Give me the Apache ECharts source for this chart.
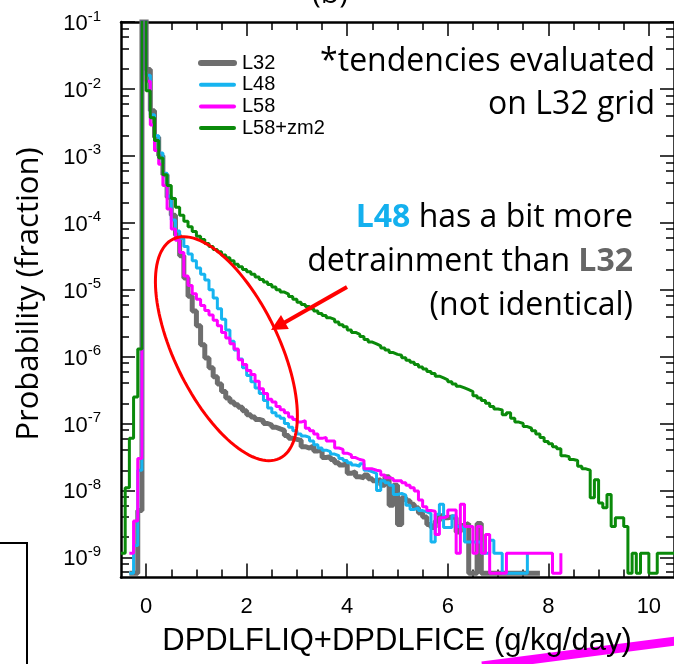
<!DOCTYPE html>
<html><head><meta charset="utf-8">
<script src="https://cdn.jsdelivr.net/npm/echarts@6/dist/echarts.min.js"></script>
<style>html,body{margin:0;padding:0;background:#fff}#c{width:674px;height:664px}</style>
</head><body><div id="c"></div>
<script>
// ---------- data (probability per bin, bin width 1/12 g/kg/day) ----------
const binWidth = 1 / 12;
const xTickLabels = [0, 2, 4, 6, 8, 10];
const xMinorTicks = [0.5, 1, 1.5, 2.5, 3, 3.5, 4.5, 5, 5.5, 6.5, 7, 7.5, 8.5, 9, 9.5];
const yDecades = [-9, -8, -7, -6, -5, -4, -3, -2, -1];
const yMinorMultipliers = [2, 4, 6, 8];
const seriesNames = ['L32', 'L48', 'L58', 'L58+zm2'];
const emptyBinLevel = 5.8e-10; // where empty bins are drawn (bottom of plot)

const L32_x0 = -4 / 12;
const L32 = [0, 0, 5e-9, 0.3, 1.95e-2, 4.7e-3, 1.9e-3, 1.0e-3, 5.2e-4, 2.4e-4, 1.3e-4, 6.5e-5, 3.2e-5, 1.5e-5,
  8e-6, 4.8e-6, 2.9e-6, 1.5e-6, 9.5e-7, 6.8e-7, 5.0e-7, 3.9e-7, 3.0e-7, 2.4e-7, 2.1e-7, 1.9e-7, 1.75e-7, 1.55e-7,
  1.35e-7, 1.25e-7, 1.15e-7, 1.1e-7, 1.0e-7, 9.5e-8, 8.8e-8, 8.3e-8, 7.9e-8, 6.6e-8, 6.0e-8, 5.8e-8, 5.6e-8,
  4.5e-8, 4.3e-8, 4.6e-8, 3.9e-8, 4.0e-8, 3.1e-8, 3.2e-8, 2.9e-8, 2.6e-8, 2.4e-8, 2.5e-8, 1.8e-8, 1.9e-8, 1.6e-8,
  1.55e-8, 1.7e-8, 1.5e-8, 1.4e-8, 1.45e-8, 1.2e-8, 1.6e-8, 6.0e-9, 1.2e-8, 3.1e-9, 7.8e-9, 7.0e-9, 6.2e-9, 5.5e-9,
  4.6e-9, 4.0e-9, 3.1e-9, 2.8e-9, 3.5e-9, 4.2e-9, 3.9e-9, 4.0e-9, 3.9e-9, 2.4e-9, 3.0e-9, 3.2e-9, 0, 0, 3.2e-9,
  0, 0, 0, 0, 0, 0, 0, 0, 0, 0, 0, 0, 0, 0, 0];

const L48_x0 = -4 / 12;
const L48 = [0, 1.5e-9, 2e-8, 0.3, 1.6e-2, 4.1e-3, 2.0e-3, 1.1e-3, 5.5e-4, 2.5e-4, 1.1e-4, 7.5e-5, 5.8e-5, 4.4e-5,
  3.4e-5, 2.7e-5, 2.1e-5, 1.7e-5, 1.4e-5, 1.0e-5, 7.5e-6, 5.2e-6, 3.6e-6, 2.5e-6, 1.7e-6, 1.25e-6, 9.2e-7, 6.8e-7,
  5.2e-7, 4.2e-7, 3.4e-7, 2.8e-7, 2.2e-7, 1.7e-7, 1.45e-7, 1.3e-7, 1.2e-7, 1.0e-7, 8.8e-8, 7.8e-8, 7.0e-8, 6.5e-8,
  6.2e-8, 5.5e-8, 4.8e-8, 4.3e-8, 4.0e-8, 3.8e-8, 3.5e-8, 3.3e-8, 3.0e-8, 2.8e-8, 2.6e-8, 2.4e-8, 2.3e-8, 2.5e-8,
  2.0e-8, 1.9e-8, 1.8e-8, 1.0e-8, 1.4e-8, 1.3e-8, 1.2e-8, 8.7e-9, 9.0e-9, 8.5e-9, 6.0e-9, 5.2e-9, 5.5e-9, 5.0e-9,
  4.8e-9, 4.5e-9, 1.7e-9, 4.4e-9, 6.2e-9, 2.8e-9, 2.8e-9, 4.2e-9, 2.9e-9, 2.8e-9, 1.7e-9, 1.7e-9, 1.7e-9, 1.7e-9,
  1.15e-9, 1.15e-9, 1.8e-9, 1.15e-9, 1.15e-9, 0, 0, 0, 0, 0, 0, 1.15e-9];

const L58_x0 = -4 / 12;
const L58 = [1.15e-9, 3.5e-9, 3e-8, 0.3, 1.3e-2, 2.9e-3, 1.2e-3, 7.5e-4, 3.6e-4, 1.6e-4, 8.1e-5, 5.5e-5, 3.6e-5,
  1.6e-5, 1.15e-5, 8.7e-6, 7.2e-6, 5.8e-6, 4.9e-6, 4.2e-6, 3.5e-6, 2.9e-6, 2.3e-6, 1.9e-6, 1.55e-6, 1.3e-6, 9.0e-7,
  7.6e-7, 6.2e-7, 5.4e-7, 4.3e-7, 3.3e-7, 2.8e-7, 2.3e-7, 2.1e-7, 1.8e-7, 1.6e-7, 1.45e-7, 1.25e-7, 1.15e-7, 1.05e-7,
  1.1e-7, 8.5e-8, 7.8e-8, 7.0e-8, 6.0e-8, 6.2e-8, 5.5e-8, 5.5e-8, 4.3e-8, 4.1e-8, 3.6e-8, 3.4e-8, 3.1e-8, 2.9e-8,
  2.8e-8, 2.1e-8, 2.1e-8, 2.0e-8, 1.95e-8, 1.7e-8, 1.55e-8, 1.5e-8, 1.4e-8, 1.4e-8, 1.3e-8, 1.2e-8, 1.1e-8, 9.8e-9,
  7.2e-9, 5.7e-9, 5.0e-9, 4.9e-9, 2.2e-9, 3.9e-9, 4.1e-9, 5.1e-9, 5.1e-9, 1.15e-9, 6.2e-9, 2.9e-9, 2.9e-9, 1.15e-9,
  2.9e-9, 1.15e-9, 2.2e-9, 0, 0, 0, 0, 1.15e-9, 1.15e-9, 1.15e-9, 1.15e-9, 1.15e-9, 1.15e-9, 1.15e-9, 1.15e-9,
  1.15e-9, 1.15e-9, 1.15e-9, 0, 0, 1.15e-9];

const L58zm2_x0 = -6 / 12;
const L58zm2 = [1.15e-9, 1.1e-8, 6e-8, 2.5e-7, 1.3e-6, 0.3, 9.4e-3, 3.7e-3, 1.7e-3, 9.3e-4, 5.2e-4, 3.6e-4, 2.3e-4,
  1.7e-4, 1.3e-4, 1.05e-4, 8.7e-5, 7.4e-5, 6.3e-5, 5.6e-5, 4.9e-5, 4.4e-5, 4.0e-5, 3.7e-5, 3.3e-5, 3.0e-5, 2.7e-5,
  2.4e-5, 2.2e-5, 2.0e-5, 1.85e-5, 1.7e-5, 1.55e-5, 1.42e-5, 1.3e-5, 1.2e-5, 1.1e-5, 1.0e-5, 9.2e-6, 8.6e-6, 7.9e-6,
  7.2e-6, 6.5e-6, 6.0e-6, 5.6e-6, 5.2e-6, 4.8e-6, 4.4e-6, 4.1e-6, 3.8e-6, 3.6e-6, 3.3e-6, 3.0e-6, 2.8e-6, 2.5e-6,
  2.3e-6, 2.15e-6, 2.0e-6, 1.8e-6, 1.65e-6, 1.55e-6, 1.45e-6, 1.35e-6, 1.25e-6, 1.15e-6, 1.08e-6, 1.05e-6, 9.6e-7,
  8.8e-7, 8.2e-7, 7.6e-7, 7.0e-7, 6.5e-7, 6.0e-7, 5.6e-7, 5.1e-7, 4.8e-7, 4.5e-7, 4.2e-7, 3.9e-7, 3.6e-7, 3.4e-7,
  3.2e-7, 3.0e-7, 2.6e-7, 2.4e-7, 2.2e-7, 2.0e-7, 1.8e-7, 1.65e-7, 1.6e-7, 1.35e-7, 1.45e-7, 1.2e-7, 1.05e-7, 1.0e-7,
  9.0e-8, 8.5e-8, 7.8e-8, 7.0e-8, 6.2e-8, 5.4e-8, 5.0e-8, 4.5e-8, 4.2e-8, 3.3e-8, 3.2e-8, 2.9e-8, 2.8e-8, 2.3e-8,
  2.1e-8, 2.0e-8, 7.8e-9, 1.45e-8, 6.5e-9, 5.5e-9, 8.7e-9, 2.9e-9, 3.9e-9, 3.9e-9, 2.9e-9, 0, 1.15e-9, 0, 1.15e-9,
  1.15e-9, 0, 0, 1.15e-9, 1.15e-9, 1.15e-9, 1.15e-9, 1.15e-9];

// ---------- chart ----------
const LOGMIN = Math.log10(5e-10), LOGMAX = -1;
function toPts(x0, arr) {
  return arr.map((v, i) => [x0 + i * binWidth, Math.log10(v > 0 ? v : emptyBinLevel)]);
}
const yMinorVals = [];
for (let e = -10; e <= -2; e++) yMinorMultipliers.forEach(m => {
  const v = Math.log10(m) + e; if (v > LOGMIN && v < LOGMAX) yMinorVals.push(v);
});

const FONT = 'Liberation Sans, Arial, sans-serif';
const ANN = '"Open Sans", Lato, sans-serif';
const black = '#000';
const cols = ['#6e6e6e', '#16b4f0', '#ff00ff', '#0a8a0a'];
const widths = [5, 3, 3, 3];

function xAx(pos, major, showLine) {
  return {
    type: 'value', position: pos, min: -0.5, max: 10.5,
    axisLine: { show: showLine, onZero: false, lineStyle: { color: black, width: 2.5 } },
    axisTick: { show: true, inside: true, length: major ? 14 : 8, customValues: major ? xTickLabels : xMinorTicks,
      lineStyle: { color: black, width: 1.5 } },
    axisLabel: (pos === 'bottom' && major) ? { show: true, customValues: xTickLabels, fontSize: 22, fontFamily: FONT,
      color: black, margin: 18 } : { show: false },
    splitLine: { show: false }
  };
}
function yAx(pos, major, showLine) {
  return {
    type: 'value', position: pos, min: LOGMIN, max: LOGMAX,
    axisLine: { show: showLine, onZero: false, lineStyle: { color: black, width: 2.5 } },
    axisTick: { show: true, inside: true, length: major ? 14 : 8, customValues: major ? yDecades : yMinorVals,
      lineStyle: { color: black, width: 1.5 } },
    axisLabel: (pos === 'left' && major) ? {
      show: true, customValues: yDecades, margin: 20,
      formatter: v => '{b|10}{s|' + Math.round(v) + '}',
      rich: {
        b: { fontSize: 22, fontFamily: FONT, color: black, lineHeight: 26, verticalAlign: 'bottom' },
        s: { fontSize: 15, fontFamily: FONT, color: black, lineHeight: 14, verticalAlign: 'top' }
      }
    } : { show: false },
    splitLine: { show: false }
  };
}

const data = [toPts(L32_x0, L32), toPts(L48_x0, L48), toPts(L58_x0, L58), toPts(L58zm2_x0, L58zm2)];

// ellipse annotation
const ell = [];
{
  const cx = 226.4, cy = 348.7, a = 121.9, b = 52.2, th = 64.1 * Math.PI / 180;
  for (let i = 0; i < 120; i++) {
    const t = i / 120 * 2 * Math.PI;
    ell.push([cx + a * Math.cos(t) * Math.cos(th) - b * Math.sin(t) * Math.sin(th),
              cy + a * Math.cos(t) * Math.sin(th) + b * Math.sin(t) * Math.cos(th)]);
  }
}

const chart = echarts.init(document.getElementById('c'), null, { renderer: 'canvas' });
chart.setOption({
  animation: false,
  backgroundColor: '#fff',
  grid: { left: 121, right: -2, top: 22, bottom: 86.5, containLabel: false },
  xAxis: [xAx('bottom', true, true), xAx('bottom', false, false), xAx('top', true, true), xAx('top', false, false)],
  yAxis: [yAx('left', true, true), yAx('left', false, false), yAx('right', true, true), yAx('right', false, false)],
  legend: {
    data: seriesNames.map((n, i) => ({ name: n, lineStyle: { width: widths[i] + 1, color: cols[i], cap: 'round' } })),
    orient: 'vertical', left: 198, top: 53, padding: 0,
    itemWidth: 33, itemHeight: 14, itemGap: 1.7,
    itemStyle: { opacity: 0 },
    textStyle: { fontSize: 20, fontFamily: FONT, color: black, lineHeight: 20, padding: [0, 0, 0, 3] }
  },
  series: seriesNames.map((n, i) => ({
    name: n, type: 'line', step: 'end', symbol: 'none', xAxisIndex: 0, yAxisIndex: 0,
    data: data[i], z: 2 + i,
    lineStyle: { color: cols[i], width: widths[i] }, itemStyle: { color: cols[i] },
    emphasis: { disabled: true }
  })),
  graphic: [
    { type: 'text', x: 330, y: 9, z: 100, style: { text: '(b)', font: '30px ' + ANN, fill: black, align: 'center', verticalAlign: 'bottom' } },
    { type: 'polygon', shape: { points: ell }, style: { fill: 'none', stroke: '#ff0000', lineWidth: 3 }, z: 100 },
    { type: 'line', shape: { x1: 347, y1: 287, x2: 282, y2: 324 }, style: { stroke: '#ff0000', lineWidth: 4 }, z: 100 },
    { type: 'polygon', shape: { points: [[271, 330], [288.8, 329.1], [281.0, 315.1]] }, style: { fill: '#ff0000' }, z: 100 },
    { type: 'text', x: 655, y: 62, z: 100, style: { text: '*tendencies evaluated', font: '32px ' + ANN, fill: black, align: 'right', verticalAlign: 'middle' } },
    { type: 'text', x: 655, y: 105, z: 100, style: { text: 'on L32 grid', font: '32px ' + ANN, fill: black, align: 'right', verticalAlign: 'middle' } },
    { type: 'text', x: 633, y: 218, z: 100, style: { text: '{c|L48} has a bit more', font: '32px ' + ANN, fill: black, align: 'right', verticalAlign: 'middle',
      rich: { c: { font: 'bold 32px ' + ANN, fill: '#14b0ee' } } } },
    { type: 'text', x: 633, y: 262, z: 100, style: { text: 'detrainment than {g|L32}', font: '32px ' + ANN, fill: black, align: 'right', verticalAlign: 'middle',
      rich: { g: { font: 'bold 32px ' + ANN, fill: '#666666' } } } },
    { type: 'text', x: 633, y: 306, z: 100, style: { text: '(not identical)', font: '32px ' + ANN, fill: black, align: 'right', verticalAlign: 'middle' } },
    { type: 'text', x: 29, y: 294, rotation: Math.PI / 2, z: 100, style: { text: 'Probability (fraction)', font: '31px ' + ANN, fill: black, align: 'center', verticalAlign: 'middle' } },
    { type: 'line', shape: { x1: 482, y1: 666, x2: 676, y2: 641 }, style: { stroke: '#ff00ff', lineWidth: 9 }, z: 90 },
    { type: 'text', x: 397, y: 641, z: 100, style: { text: 'DPDLFLIQ+DPDLFICE (g/kg/day)', font: '31px ' + FONT, fill: black, align: 'center', verticalAlign: 'middle' } },
    { type: 'polyline', shape: { points: [[0, 543], [27, 543], [27, 664]] }, style: { fill: 'none', stroke: black, lineWidth: 2 }, z: 100 }
  ]
});
</script></body></html>
